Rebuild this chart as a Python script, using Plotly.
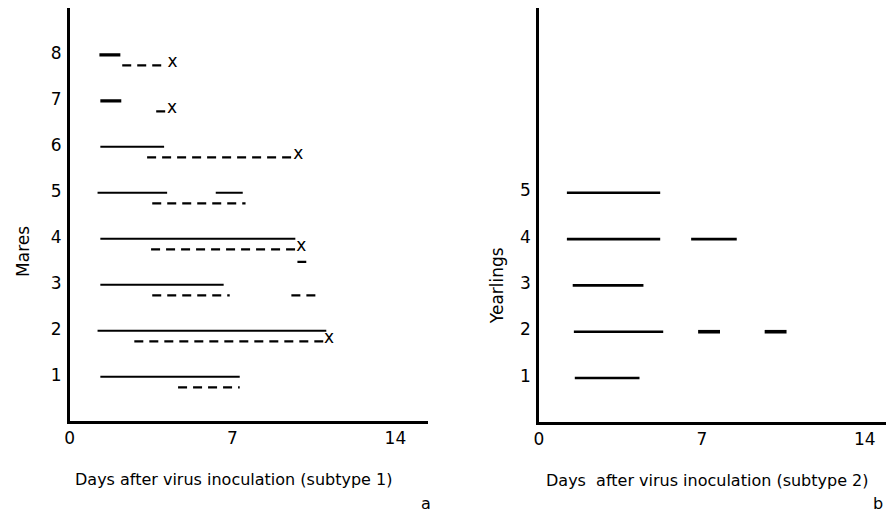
import plotly.graph_objects as go

# ---------------- data (days after inoculation) ----------------
# Mares (subtype 1): solid-line segments
mare_solid_row = [8, 7, 6, 5, 5, 4, 3, 2, 1]
mare_solid_start = [1.28, 1.32, 1.32, 1.20, 6.28, 1.32, 1.32, 1.20, 1.32]
mare_solid_end = [2.18, 2.22, 4.06, 4.19, 7.44, 9.70, 6.62, 11.03, 7.31]
mare_solid_bold = [True, True, False, False, False, False, False, False, False]

# Mares: dashed-line segments
mare_dash_row = [8, 7, 6, 5, 4, 3, 3, 2, 1]
mare_dash_start = [2.26, 3.72, 3.33, 3.55, 3.50, 3.55, 9.53, 2.78, 4.66]
mare_dash_end = [4.15, 4.15, 9.62, 7.56, 9.70, 6.88, 10.68, 10.90, 7.31]

# Mares: odd short mark under mare 4
mare_extra_row = [4]
mare_extra_start = [9.79]
mare_extra_end = [10.17]

# Mares: end points marked "x"
mare_x_row = [8, 7, 6, 4, 2]
mare_x_day = [4.42, 4.40, 9.83, 9.96, 11.15]

# Yearlings (subtype 2)
year_row = [5, 4, 4, 3, 2, 2, 2, 1]
year_start = [1.20, 1.20, 6.54, 1.45, 1.50, 6.84, 9.70, 1.54]
year_end = [5.21, 5.21, 8.50, 4.49, 5.34, 7.78, 10.64, 4.32]
year_bold = [False, False, False, False, False, True, True, False]

x_ticks = [0, 7, 14]
x_ticktext = ["0", "7", "14"]
mare_ticks = [1, 2, 3, 4, 5, 6, 7, 8]
year_ticks = [1, 2, 3, 4, 5]

# ---------------- figure ----------------
W, H = 886, 516
FONT = "DejaVu Sans, Verdana, sans-serif"
fig = go.Figure()

DASH_OFF = -0.27
EXTRA_OFF = -0.54


def seg(x0, x1, y, width, dash, xa, ya):
    fig.add_trace(go.Scatter(
        x=[x0, x1], y=[y, y], mode="lines",
        line=dict(color="black", width=width, dash=dash),
        xaxis=xa, yaxis=ya, showlegend=False, hoverinfo="skip"))


for r, a, b, bold in zip(mare_solid_row, mare_solid_start, mare_solid_end, mare_solid_bold):
    seg(a, b, r - 0.04, 3.2 if bold else 2.0, "solid", "x", "y")
for r, a, b in zip(mare_dash_row, mare_dash_start, mare_dash_end):
    seg(a, b, r + DASH_OFF, 2.2, "9px,6px", "x", "y")
for r, a, b in zip(mare_extra_row, mare_extra_start, mare_extra_end):
    seg(a, b, r + EXTRA_OFF, 2.2, "solid", "x", "y")

fig.add_trace(go.Scatter(
    x=mare_x_day, y=[r + DASH_OFF + 0.05 for r in mare_x_row], mode="text",
    text=["x"] * len(mare_x_day), textposition="middle center",
    textfont=dict(family=FONT, size=17, color="black"),
    xaxis="x", yaxis="y", showlegend=False, hoverinfo="skip"))

for r, a, b, bold in zip(year_row, year_start, year_end, year_bold):
    seg(a, b, r - 0.05, 3.6 if bold else 2.6, "solid", "x2", "y2")

PX = 23.4  # pixels per day

axis_common = dict(showgrid=False, zeroline=False, showline=True,
                   linecolor="black", linewidth=2.5, ticks="",
                   tickfont=dict(family=FONT, size=17, color="black"),
                   fixedrange=True)

fig.update_layout(
    width=W, height=H,
    margin=dict(l=0, r=0, t=0, b=0),
    paper_bgcolor="white", plot_bgcolor="white",
    xaxis=dict(domain=[65 / W, 425 / W], range=[0, (425 - 65) / PX],
               tickvals=x_ticks, ticktext=x_ticktext, anchor="y",
               ticklabelstandoff=0, **axis_common),
    yaxis=dict(domain=[1 - 421 / H, 1 - 8 / H], range=[0, (421 - 8) / 46.0],
               tickvals=mare_ticks, anchor="x", ticklabelstandoff=2,
               **axis_common),
    xaxis2=dict(domain=[537 / W, 1.0], range=[0, (886 - 537) / PX],
                tickvals=x_ticks, ticktext=x_ticktext, anchor="y2",
                ticklabelstandoff=0, **axis_common),
    yaxis2=dict(domain=[1 - 422 / H, 1 - 8 / H], range=[0, (422 - 8) / 46.3],
                tickvals=year_ticks, anchor="x2", ticklabelstandoff=2,
                **axis_common),
)


def ann(text, px, py, angle=0, xanchor="center", size=16):
    fig.add_annotation(text=text, x=px / W, y=1 - py / H, xref="paper", yref="paper",
                       xanchor=xanchor, yanchor="middle", showarrow=False,
                       textangle=angle, font=dict(family=FONT, size=size, color="black"))


ann("Mares", 18, 251, angle=-90, size=17)
ann("Yearlings", 495, 286, angle=-90, size=17)
ann("Days after virus inoculation (subtype 1)", 230, 479)
ann("Days  after virus inoculation (subtype 2)", 706, 480)
ann("a", 423, 503)
ann("b", 885, 503, xanchor="right")

fig.write_html("out.html")
